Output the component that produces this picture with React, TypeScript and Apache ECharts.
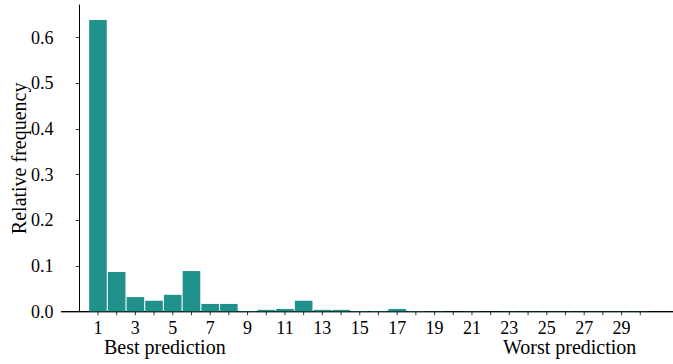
import React, { useEffect, useRef } from "react";
import * as echarts from "echarts";

const ranks: number[] = Array.from({ length: 30 }, (_, i) => i + 1);
const frequencies: number[] = [
  0.639, 0.087, 0.032, 0.024, 0.037, 0.089, 0.017, 0.017, 0.0015, 0.004,
  0.006, 0.024, 0.004, 0.004, 0.0015, 0.0015, 0.006, 0.0015, 0.001, 0.0005,
  0.001, 0.0005, 0.0008, 0.0008, 0.0008, 0.0008, 0.0008, 0.0008, 0.0008, 0.0008,
];
const yTicks: number[] = [0, 0.1, 0.2, 0.3, 0.4, 0.5, 0.6];
const yLabel = "Relative frequency";
const leftNote = "Best prediction";
const rightNote = "Worst prediction";

const FONT = "Liberation Serif";

export default function App() {
  const ref = useRef<HTMLDivElement>(null);
  useEffect(() => {
    if (!ref.current) return;
    const chart = echarts.init(ref.current, null, { renderer: "svg" });
    const xMin = -0.95;
    const xMax = 31.75;
    chart.setOption({
      animation: false,
      backgroundColor: "#ffffff",
      grid: { left: 61.5, right: 0, top: 5, bottom: 52.3, containLabel: false, outerBoundsMode: "none" },
      xAxis: [
        {
          type: "value",
          min: xMin,
          max: xMax,
          position: "bottom",
          z: 3,
          axisLine: { show: true, onZero: false, lineStyle: { color: "rgba(0,0,0,0.5)", width: 1.5 } },
          axisTick: { show: false },
          axisLabel: { show: false },
          splitLine: { show: false },
        },
        {
          type: "value",
          min: xMin,
          max: xMax,
          position: "top",
          axisLine: { show: true, lineStyle: { color: "#000", width: 1 } },
          axisTick: { show: false },
          axisLabel: { show: false },
          splitLine: { show: false },
        },
      ],
      yAxis: {
        type: "value",
        min: 0,
        max: 0.6716,
        interval: 0.1,
        name: yLabel,
        nameLocation: "middle",
        nameGap: 33,
        nameMoveOverlap: false,
        nameTextStyle: { fontFamily: FONT, fontSize: 20, color: "#000" },
        axisLine: { show: true, lineStyle: { color: "#000", width: 1 } },
        axisTick: {
          show: true,
          length: 3.5,
          lineStyle: { color: "#000", width: 0.8 },
          customValues: yTicks,
        },
        axisLabel: {
          fontFamily: FONT,
          fontSize: 18,
          color: "#000",
          margin: 8,
          customValues: yTicks,
          formatter: (v: number) => v.toFixed(1),
        },
        splitLine: { show: false },
      },
      graphic: [
        {
          type: "text",
          left: 104,
          top: 337,
          style: { text: leftNote, fontFamily: FONT, fontSize: 20, fill: "#000" },
        },
        {
          type: "text",
          left: 503,
          top: 337,
          style: { text: rightNote, fontFamily: FONT, fontSize: 20, fill: "#000" },
        },
      ],
      series: [
        {
          type: "bar",
          xAxisIndex: 0,
          data: ranks.map((r, i) => [r, frequencies[i]]),
          barWidth: 17.6,
          itemStyle: { color: "#21918c" },
          z: 2,
        },
        {
          type: "custom",
          xAxisIndex: 0,
          silent: true,
          z: 4,
          data: ranks.map((r) => [r, 0]),
          renderItem: (params: any, api: any) => {
            const n = api.value(0);
            const p = api.coord([n, 0]);
            const children: any[] = [
              {
                type: "line",
                shape: { x1: p[0], y1: p[1], x2: p[0], y2: p[1] + 3.5 },
                style: { stroke: "#000", lineWidth: 0.8 },
              },
            ];
            if (n % 2 === 1) {
              children.push({
                type: "text",
                x: p[0],
                y: p[1] + 7,
                style: {
                  text: String(n),
                  fontFamily: FONT,
                  fontSize: 18,
                  fill: "#000",
                  align: "center",
                  verticalAlign: "top",
                },
              });
            }
            return { type: "group", children };
          },
        },
      ],
    });
    return () => chart.dispose();
  }, []);
  return <div ref={ref} style={{ width: 673, height: 364, position: "absolute", left: 0, top: 0 }} />;
}
